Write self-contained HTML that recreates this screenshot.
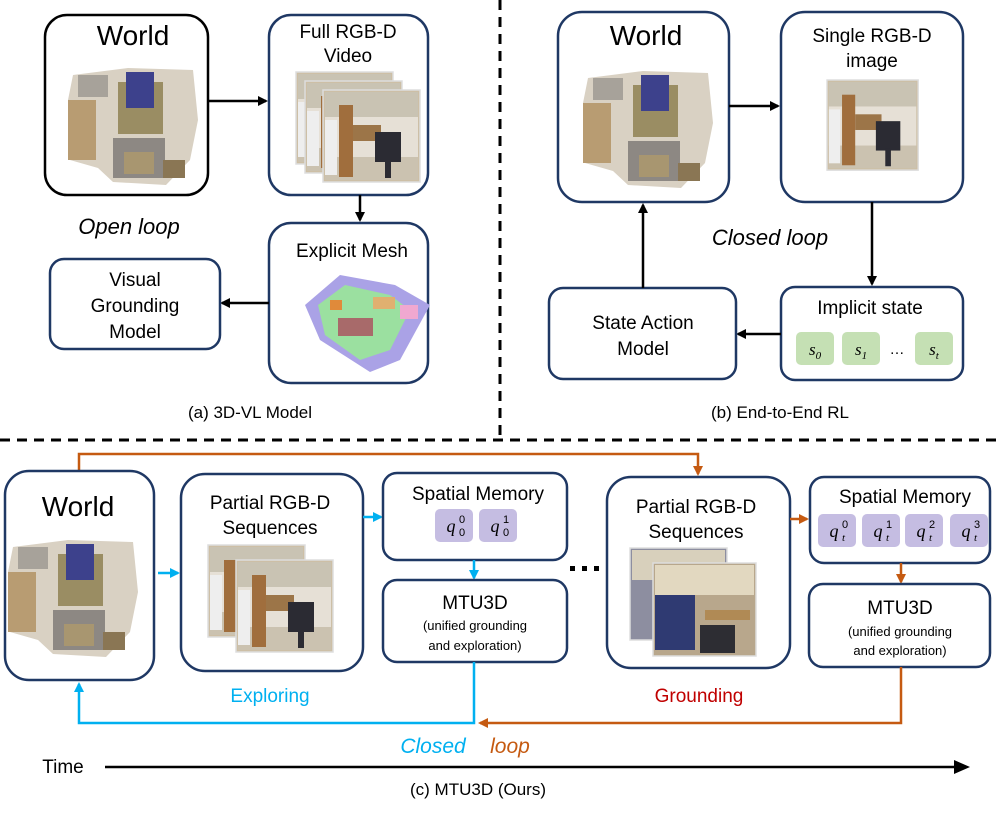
<!DOCTYPE html>
<html><head><meta charset="utf-8"><style>
html,body{margin:0;padding:0;background:#fff}
svg{display:block}
text{font-family:"Liberation Sans",sans-serif;fill:#000}
.i{font-style:italic}
.m{font-family:"Liberation Serif",serif;font-style:italic}
</style></head><body>
<svg width="997" height="815" viewBox="0 0 997 815" xmlns="http://www.w3.org/2000/svg">
<defs>
<marker id="ak" markerWidth="10" markerHeight="10" refX="8" refY="5" orient="auto" markerUnits="userSpaceOnUse"><path d="M0,0 L10,5 L0,10 Z" fill="#000"/></marker>
<marker id="ab" markerWidth="10" markerHeight="10" refX="8" refY="5" orient="auto" markerUnits="userSpaceOnUse"><path d="M0,0 L10,5 L0,10 Z" fill="#00b0f0"/></marker>
<marker id="ao" markerWidth="10" markerHeight="10" refX="8" refY="5" orient="auto" markerUnits="userSpaceOnUse"><path d="M0,0 L10,5 L0,10 Z" fill="#c55a11"/></marker>
<marker id="abig" markerWidth="16" markerHeight="16" refX="12" refY="8" orient="auto" markerUnits="userSpaceOnUse"><path d="M0,1 L16,8 L0,15 Z" fill="#000"/></marker>
<g id="w">
<polygon points="5,15 60,8 125,10 130,60 122,100 98,125 45,122 30,108 2,100 0,40" fill="#d9d1c3"/>
<rect x="0" y="40" width="28" height="60" fill="#b89c72"/>
<rect x="50" y="22" width="45" height="52" fill="#9a8d63"/>
<rect x="58" y="12" width="28" height="36" fill="#3d418c"/>
<rect x="45" y="78" width="52" height="40" fill="#8d8883"/>
<rect x="56" y="92" width="30" height="22" fill="#a89670"/>
<rect x="10" y="15" width="30" height="22" fill="#a7a29a"/>
<rect x="95" y="100" width="22" height="18" fill="#8a7654"/>
</g>
<g id="p">
<rect x="0" y="0" width="97" height="92" fill="#cdbfa6" stroke="#ddd" stroke-width="1.5"/>
<rect x="2" y="2" width="93" height="25" fill="#c9c3b3"/>
<rect x="2" y="27" width="93" height="40" fill="#e6e0d6"/>
<rect x="2" y="67" width="93" height="23" fill="#cbc2b0"/>
<rect x="16" y="15" width="14" height="72" fill="#a06e3d"/>
<rect x="30" y="35" width="28" height="16" fill="#9c7548"/>
<rect x="52" y="42" width="26" height="30" fill="#2b2b33"/>
<rect x="62" y="70" width="6" height="18" fill="#2b2b33"/>
<rect x="2" y="30" width="12" height="55" fill="#eee"/>
</g>
</defs>

<line x1="500" y1="0" x2="500" y2="437" stroke="#000" stroke-width="3" stroke-dasharray="10,7"/>
<line x1="0" y1="440" x2="997" y2="440" stroke="#000" stroke-width="3" stroke-dasharray="10,7"/>

<!-- (a) -->
<rect x="45" y="15" width="163" height="180" rx="22" fill="#fff" stroke="#000" stroke-width="2.5"/>
<text x="133" y="45" font-size="28" text-anchor="middle">World</text>
<use href="#w" x="68" y="60"/>
<line x1="208" y1="101" x2="266" y2="101" stroke="#000" stroke-width="2.5" marker-end="url(#ak)"/>
<rect x="269" y="15" width="159" height="180" rx="22" fill="#fff" stroke="#1f3864" stroke-width="2.5"/>
<text x="348" y="38" font-size="19" text-anchor="middle">Full RGB-D</text>
<text x="348" y="62" font-size="19" text-anchor="middle">Video</text>
<use href="#p" x="296" y="72"/>
<use href="#p" x="305" y="81"/>
<use href="#p" x="323" y="90"/>
<line x1="360" y1="195" x2="360" y2="220" stroke="#000" stroke-width="2.5" marker-end="url(#ak)"/>
<rect x="269" y="223" width="159" height="160" rx="22" fill="#fff" stroke="#1f3864" stroke-width="2.5"/>
<text x="352" y="257" font-size="19" text-anchor="middle">Explicit Mesh</text>
<polygon points="305,305 340,275 395,285 430,305 400,360 370,372 320,340" fill="#aaa2e6"/>
<polygon points="318,305 345,285 390,295 410,310 390,350 360,360 325,335" fill="#9be0a0"/>
<rect x="338" y="318" width="35" height="18" fill="#a86a6a"/>
<rect x="330" y="300" width="12" height="10" fill="#e08a3a"/>
<rect x="373" y="297" width="22" height="12" fill="#e0b070"/>
<rect x="400" y="305" width="18" height="14" fill="#f0a8d0"/>
<line x1="269" y1="303" x2="222" y2="303" stroke="#000" stroke-width="2.5" marker-end="url(#ak)"/>
<rect x="50" y="259" width="170" height="90" rx="14" fill="#fff" stroke="#1f3864" stroke-width="2.5"/>
<text x="135" y="286" font-size="19" text-anchor="middle">Visual</text>
<text x="135" y="312" font-size="19" text-anchor="middle">Grounding</text>
<text x="135" y="338" font-size="19" text-anchor="middle">Model</text>
<text x="129" y="234" font-size="22" text-anchor="middle" class="i">Open loop</text>
<text x="250" y="418" font-size="17" text-anchor="middle">(a) 3D-VL Model</text>

<!-- (b) -->
<rect x="558" y="12" width="171" height="190" rx="24" fill="#fff" stroke="#1f3864" stroke-width="2.5"/>
<text x="646" y="45" font-size="28" text-anchor="middle">World</text>
<use href="#w" x="583" y="63"/>
<line x1="729" y1="106" x2="778" y2="106" stroke="#000" stroke-width="2.5" marker-end="url(#ak)"/>
<rect x="781" y="12" width="182" height="190" rx="24" fill="#fff" stroke="#1f3864" stroke-width="2.5"/>
<text x="872" y="42" font-size="19" text-anchor="middle">Single RGB-D</text>
<text x="872" y="67" font-size="19" text-anchor="middle">image</text>
<g transform="translate(827,80) scale(0.94,0.98)"><use href="#p"/></g>
<line x1="872" y1="202" x2="872" y2="284" stroke="#000" stroke-width="2.5" marker-end="url(#ak)"/>
<rect x="781" y="287" width="182" height="93" rx="14" fill="#fff" stroke="#1f3864" stroke-width="2.5"/>
<text x="870" y="314" font-size="19" text-anchor="middle">Implicit state</text>
<rect x="796" y="332" width="38" height="33" rx="5" fill="#c5e0b4"/>
<rect x="842" y="332" width="38" height="33" rx="5" fill="#c5e0b4"/>
<rect x="915" y="332" width="38" height="33" rx="5" fill="#c5e0b4"/>
<text x="815" y="355" font-size="17" text-anchor="middle" class="m">s<tspan font-size="11" dy="4">0</tspan></text>
<text x="861" y="355" font-size="17" text-anchor="middle" class="m">s<tspan font-size="11" dy="4">1</tspan></text>
<text x="897" y="354" font-size="15" text-anchor="middle">…</text>
<text x="934" y="355" font-size="17" text-anchor="middle" class="m">s<tspan font-size="11" dy="4">t</tspan></text>
<line x1="781" y1="334" x2="738" y2="334" stroke="#000" stroke-width="2.5" marker-end="url(#ak)"/>
<rect x="549" y="288" width="187" height="91" rx="14" fill="#fff" stroke="#1f3864" stroke-width="2.5"/>
<text x="643" y="329" font-size="19" text-anchor="middle">State Action</text>
<text x="643" y="355" font-size="19" text-anchor="middle">Model</text>
<line x1="643" y1="288" x2="643" y2="205" stroke="#000" stroke-width="2.5" marker-end="url(#ak)"/>
<text x="770" y="245" font-size="22" text-anchor="middle" class="i">Closed loop</text>
<text x="780" y="418" font-size="17" text-anchor="middle">(b) End-to-End RL</text>

<!-- (c) -->
<polyline points="79,470 79,454 698,454 698,474" fill="none" stroke="#c55a11" stroke-width="2.5" marker-end="url(#ao)"/>
<rect x="5" y="471" width="149" height="209" rx="24" fill="#fff" stroke="#1f3864" stroke-width="2.5"/>
<text x="78" y="516" font-size="28" text-anchor="middle">World</text>
<use href="#w" x="8" y="532"/>
<line x1="158" y1="573" x2="178" y2="573" stroke="#00b0f0" stroke-width="2.5" marker-end="url(#ab)"/>
<rect x="181" y="474" width="182" height="197" rx="24" fill="#fff" stroke="#1f3864" stroke-width="2.5"/>
<text x="270" y="509" font-size="19" text-anchor="middle">Partial RGB-D</text>
<text x="270" y="534" font-size="19" text-anchor="middle">Sequences</text>
<use href="#p" x="208" y="545"/>
<use href="#p" x="236" y="560"/>
<line x1="363" y1="517" x2="381" y2="517" stroke="#00b0f0" stroke-width="2.5" marker-end="url(#ab)"/>
<rect x="383" y="473" width="184" height="87" rx="14" fill="#fff" stroke="#1f3864" stroke-width="2.5"/>
<text x="478" y="500" font-size="19" text-anchor="middle">Spatial Memory</text>
<rect x="435" y="509" width="38" height="33" rx="5" fill="#c5bde2"/>
<rect x="479" y="509" width="38" height="33" rx="5" fill="#c5bde2"/>
<text x="451" y="532" font-size="18" text-anchor="middle" class="m">q</text><text x="459" y="523" font-size="11" font-family="Liberation Serif">0</text><text x="459" y="536" font-size="11" font-family="Liberation Serif">0</text>
<text x="495" y="532" font-size="18" text-anchor="middle" class="m">q</text><text x="503" y="523" font-size="11" font-family="Liberation Serif">1</text><text x="503" y="536" font-size="11" font-family="Liberation Serif">0</text>
<line x1="474" y1="560" x2="474" y2="578" stroke="#00b0f0" stroke-width="2.5" marker-end="url(#ab)"/>
<rect x="383" y="580" width="184" height="82" rx="14" fill="#fff" stroke="#1f3864" stroke-width="2.5"/>
<text x="475" y="609" font-size="19" text-anchor="middle">MTU3D</text>
<text x="475" y="630" font-size="13" text-anchor="middle">(unified grounding</text>
<text x="475" y="650" font-size="13" text-anchor="middle">and exploration)</text>
<polyline points="474,662 474,723 79,723 79,684" fill="none" stroke="#00b0f0" stroke-width="2.5" marker-end="url(#ab)"/>
<rect x="570" y="566" width="5" height="5" fill="#000"/><rect x="582" y="566" width="5" height="5" fill="#000"/><rect x="594" y="566" width="5" height="5" fill="#000"/>
<rect x="607" y="477" width="183" height="191" rx="24" fill="#fff" stroke="#1f3864" stroke-width="2.5"/>
<text x="696" y="513" font-size="19" text-anchor="middle">Partial RGB-D</text>
<text x="696" y="538" font-size="19" text-anchor="middle">Sequences</text>
<g><rect x="630" y="548" width="97" height="92" fill="#8d8ea0" stroke="#ddd" stroke-width="1.5"/><rect x="632" y="550" width="93" height="30" fill="#d8d0bc"/></g>
<g><rect x="653" y="563" width="103" height="93" fill="#b8a78c" stroke="#ddd" stroke-width="1.5"/><rect x="655" y="565" width="99" height="30" fill="#e2d8c0"/><rect x="655" y="595" width="40" height="55" fill="#2f3a72"/><rect x="705" y="610" width="45" height="10" fill="#b08a55"/><rect x="700" y="625" width="35" height="28" fill="#2d2d33"/></g>
<line x1="790" y1="519" x2="807" y2="519" stroke="#c55a11" stroke-width="2.5" marker-end="url(#ao)"/>
<rect x="810" y="477" width="180" height="86" rx="14" fill="#fff" stroke="#1f3864" stroke-width="2.5"/>
<text x="905" y="503" font-size="19" text-anchor="middle">Spatial Memory</text>
<rect x="818" y="514" width="38" height="33" rx="5" fill="#c5bde2"/>
<rect x="862" y="514" width="38" height="33" rx="5" fill="#c5bde2"/>
<rect x="905" y="514" width="38" height="33" rx="5" fill="#c5bde2"/>
<rect x="950" y="514" width="38" height="33" rx="5" fill="#c5bde2"/>
<text x="834" y="537" font-size="18" text-anchor="middle" class="m">q</text><text x="842" y="528" font-size="11" font-family="Liberation Serif">0</text><text x="842" y="541" font-size="11" class="m">t</text>
<text x="878" y="537" font-size="18" text-anchor="middle" class="m">q</text><text x="886" y="528" font-size="11" font-family="Liberation Serif">1</text><text x="886" y="541" font-size="11" class="m">t</text>
<text x="921" y="537" font-size="18" text-anchor="middle" class="m">q</text><text x="929" y="528" font-size="11" font-family="Liberation Serif">2</text><text x="929" y="541" font-size="11" class="m">t</text>
<text x="966" y="537" font-size="18" text-anchor="middle" class="m">q</text><text x="974" y="528" font-size="11" font-family="Liberation Serif">3</text><text x="974" y="541" font-size="11" class="m">t</text>
<line x1="901" y1="563" x2="901" y2="582" stroke="#c55a11" stroke-width="2.5" marker-end="url(#ao)"/>
<rect x="809" y="584" width="181" height="83" rx="14" fill="#fff" stroke="#1f3864" stroke-width="2.5"/>
<text x="900" y="614" font-size="19" text-anchor="middle">MTU3D</text>
<text x="900" y="636" font-size="13" text-anchor="middle">(unified grounding</text>
<text x="900" y="655" font-size="13" text-anchor="middle">and exploration)</text>
<polyline points="901,667 901,723 480,723" fill="none" stroke="#c55a11" stroke-width="2.5" marker-end="url(#ao)"/>
<text x="270" y="702" font-size="19" text-anchor="middle" style="fill:#00b0f0">Exploring</text>
<text x="699" y="702" font-size="19" text-anchor="middle" style="fill:#c00000">Grounding</text>
<text x="433" y="753" font-size="21" text-anchor="middle" class="i" style="fill:#00b0f0">Closed</text>
<text x="510" y="753" font-size="21" text-anchor="middle" class="i" style="fill:#c55a11">loop</text>
<text x="63" y="773" font-size="19" text-anchor="middle">Time</text>
<line x1="105" y1="767" x2="966" y2="767" stroke="#000" stroke-width="2.5" marker-end="url(#abig)"/>
<text x="478" y="795" font-size="17" text-anchor="middle">(c) MTU3D (Ours)</text>
</svg>
</body></html>
